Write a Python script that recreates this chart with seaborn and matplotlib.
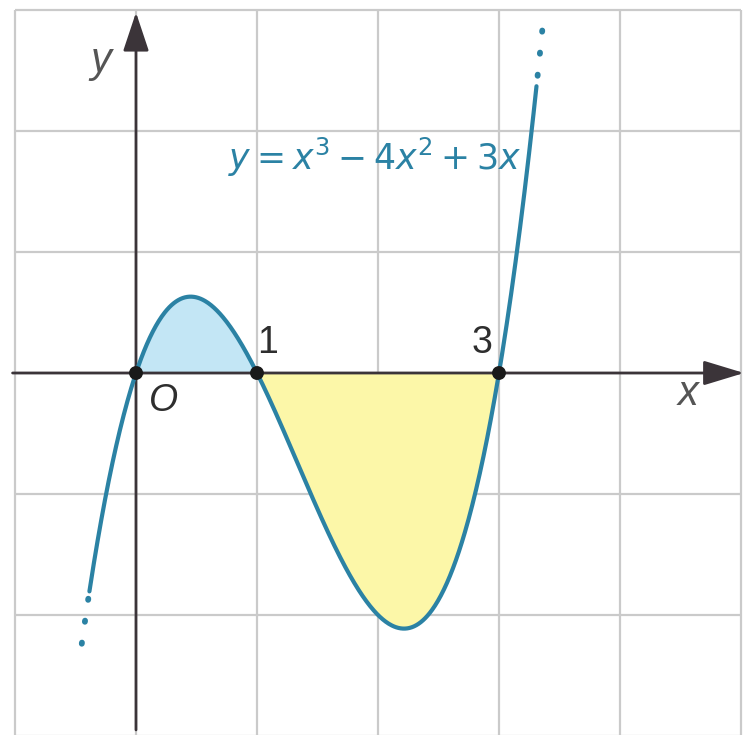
import numpy as np
import pandas as pd
import matplotlib
matplotlib.use("Agg")
import matplotlib.pyplot as plt
import seaborn as sns

# Cubic y = x^3 - 4x^2 + 3x (highest power first)
coeffs = [1, -4, 3, 0]
roots = [0, 1, 3]
root_labels = ["O", "1", "3"]
solid_x = [-0.385, 3.31]         # drawn part of the curve
dotted_left = [-0.46, -0.385]    # dotted continuation, left
dotted_right = [3.31, 3.365]     # dotted continuation, right
grid_x = [-1, 0, 1, 2, 3, 4, 5]
grid_y = [-3, -2, -1, 0, 1, 2, 3]

sns.set_style("white")
plt.rcParams["font.family"] = ["Liberation Sans", "DejaVu Sans"]

curve_col = "#2b82a4"
axis_col = "#3b3439"

fig = plt.figure(figsize=(7.44, 7.35), dpi=100)
ax = fig.add_axes([0, 0, 1, 1])
ax.set_xlim(-1.124, 5.025)
ax.set_ylim(-2.992, 3.083)
ax.set_axis_off()

# Square grid
ax.vlines(grid_x, grid_y[0], grid_y[-1], color="#cacaca", lw=1.6, zorder=0)
ax.hlines(grid_y, grid_x[0], grid_x[-1], color="#cacaca", lw=1.6, zorder=0)

def curve(xs):
    return np.polyval(coeffs, xs)

# Shaded areas between the curve and the x-axis
xb = np.linspace(roots[0], roots[1], 200)
ax.fill_between(xb, curve(xb), 0, color="#c3e6f5", lw=0, zorder=1)
xy_ = np.linspace(roots[1], roots[2], 300)
ax.fill_between(xy_, curve(xy_), 0, color="#fcf7a8", lw=0, zorder=1)

# Axes with arrowheads
ax.annotate("", xy=(5.025, 0), xytext=(-1.02, 0),
            arrowprops=dict(arrowstyle="-|>,head_length=1.25,head_width=0.38",
                            mutation_scale=20, color=axis_col, lw=2.0,
                            shrinkA=0, shrinkB=0), zorder=3)
ax.annotate("", xy=(0, 2.98), xytext=(0, -2.95),
            arrowprops=dict(arrowstyle="-|>,head_length=1.2,head_width=0.4",
                            mutation_scale=20, color=axis_col, lw=2.0,
                            shrinkA=0, shrinkB=0), zorder=3)

# Curve
xs = np.linspace(solid_x[0], solid_x[1], 600)
df = pd.DataFrame({"x": xs, "y": curve(xs)})
sns.lineplot(data=df, x="x", y="y", ax=ax, color=curve_col, lw=3.0,
             sort=False, zorder=4)
for seg in (dotted_left, dotted_right):
    xd = np.linspace(seg[0], seg[1], 50)
    ax.plot(xd, curve(xd), color=curve_col, lw=4.2,
            linestyle=(2.0, (0.2, 3.6)), dash_capstyle="round", zorder=4)

# Roots
sns.scatterplot(x=roots, y=[0] * len(roots), ax=ax, color="#1a1a1a",
                s=100, edgecolor="none", zorder=5)

# Labels
ax.text(0.11, -0.08, root_labels[0], fontsize=27, style="italic",
        color="#2e2e2e", ha="left", va="top")
ax.text(1.0, 0.1, root_labels[1], fontsize=27, color="#2e2e2e",
        ha="left", va="bottom")
ax.text(2.95, 0.1, root_labels[2], fontsize=27, color="#2e2e2e",
        ha="right", va="bottom")
ax.text(4.56, -0.17, "x", fontsize=30, style="italic", color="#555555",
        ha="center", va="center")
ax.text(-0.29, 2.58, "y", fontsize=30, style="italic", color="#555555",
        ha="center", va="center")
ax.text(0.76, 1.78, r"$y = x^3 - 4x^2 + 3x$", fontsize=25, color=curve_col,
        ha="left", va="center", math_fontfamily="dejavusans")

fig.savefig("out.png", dpi=100, facecolor="white")
